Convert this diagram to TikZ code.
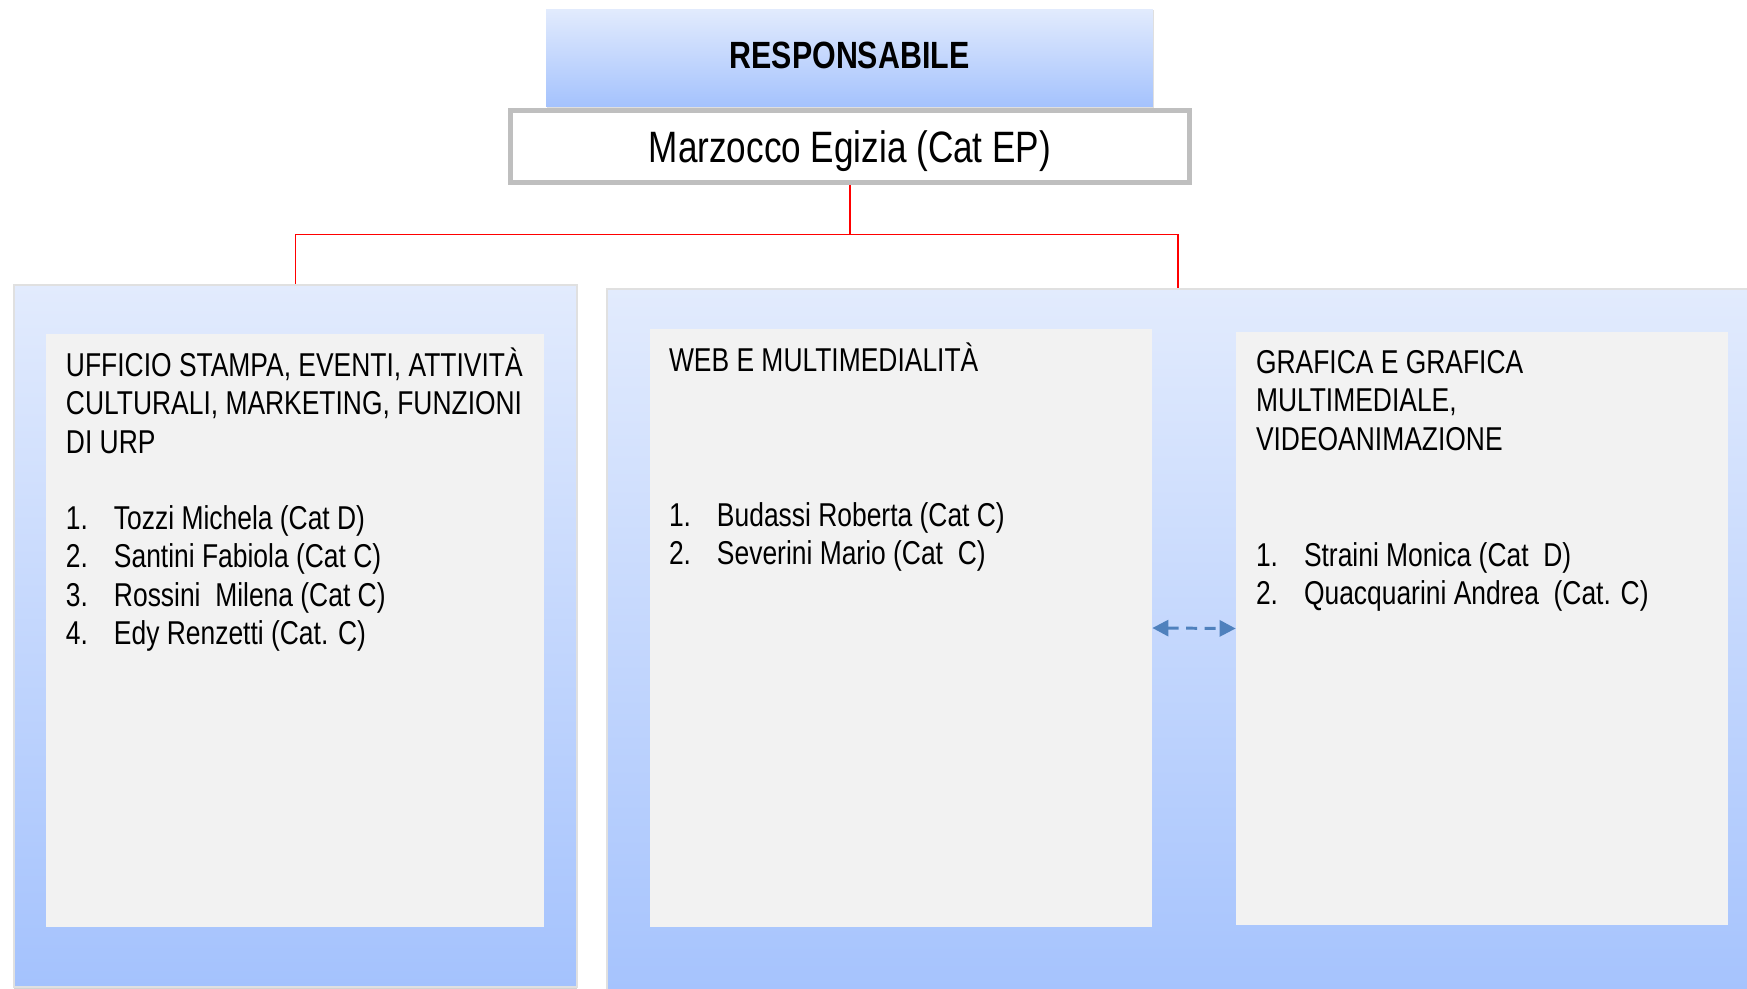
\documentclass[tikz,border=0pt]{standalone}
\usepackage{fontspec}
\setmainfont{Liberation Sans}[FakeStretch=0.8]
\usetikzlibrary{arrows.meta,shadows,fit}

\definecolor{bluetop}{HTML}{E2EBFD}
\definecolor{bluebot}{HTML}{A4C2FD}
\definecolor{boxgray}{HTML}{F2F2F2}
\definecolor{framegray}{HTML}{BFBFBF}
\definecolor{arrowblue}{HTML}{4F81BD}

\newcommand{\textlines}[1]{\begin{tabular}[t]{@{}l@{}}#1\end{tabular}}
\newcommand{\namelist}[1]{\begin{tabular}[t]{@{}p{0.96cm}@{}l@{}}#1\end{tabular}}

\begin{document}
\begin{tikzpicture}[x=0.02cm,y=-0.02cm,
    outerbox/.style={inner sep=0pt,top color=bluetop,bottom color=bluebot,
                     draw=black!12,line width=0.8pt,
                     drop shadow={shadow xshift=0pt,shadow yshift=-1.2pt,opacity=.35}},
    innerbox/.style={inner sep=0pt,fill=boxgray},
    body/.style={anchor=base west,inner sep=0pt,font=\fontsize{18.8}{21.8}\selectfont},
    link/.style={draw=red,line width=1.1pt},
    sync/.style={{Triangle[length=0.32cm,width=0.32cm]}-{Triangle[length=0.32cm,width=0.32cm]},
                 draw=arrowblue,line width=1.7pt,dash pattern=on 0.22cm off 0.15cm}]

  \useasboundingbox (0,0) rectangle (1747,989);
  \clip (0,0) rectangle (1747,989);

  % top
  \node[inner sep=0pt,minimum width=12.14cm,minimum height=1.96cm,
        top color=bluetop,bottom color=bluebot,
        drop shadow={shadow xshift=0.6pt,shadow yshift=-0.8pt,opacity=.25},
        text height=15.5pt,text depth=3.8pt,
        font=\bfseries\fontsize{21.6}{26}\selectfont] (resp) at (849.5,58) {RESPONSABILE};
  \node[draw=framegray,fill=white,line width=2.85pt,inner sep=0pt,
        minimum width=13.58cm,minimum height=1.44cm,
        text height=17.9pt,text depth=0pt,
        font=\fontsize{25}{30}\selectfont] (marz) at (850,146.5) {Marzocco Egizia (Cat EP)};

  % outer panels
  \node[outerbox,fit={(14,285) (577,987)}] (leftout) {};
  \node[outerbox,fit={(607,289) (1749,1010)}] (rightout) {};

  % inner panels
  \node[innerbox,fit={(46,334) (544,927)}] (leftin) {};
  \node[innerbox,fit={(650,329) (1152,927)}] (webin) {};
  \node[innerbox,fit={(1236,332) (1728,925)}] (grafin) {};

  % texts
  \node[body,xshift=0.4cm,yshift=-0.86cm] (lefttitle) at (leftin.north west)
    {\textlines{UFFICIO STAMPA, EVENTI, ATTIVITÀ\\CULTURALI, MARKETING, FUNZIONI\\DI URP}};
  \node[body,xshift=0.4cm,yshift=-3.92cm] (leftlist) at (leftin.north west)
    {\namelist{1. & Tozzi Michela (Cat D)\\2. & Santini Fabiola (Cat C)\\
               3. & Rossini\ \ Milena (Cat C)\\4. & Edy Renzetti (Cat. C)}};

  \node[body,xshift=0.38cm,yshift=-0.86cm] (webtitle) at (webin.north west)
    {WEB E MULTIMEDIALITÀ};
  \node[body,xshift=0.38cm,yshift=-3.96cm] (weblist) at (webin.north west)
    {\namelist{1. & Budassi Roberta (Cat C)\\2. & Severini Mario (Cat\ \ C)}};

  \node[body,xshift=0.4cm,yshift=-0.84cm] (graftitle) at (grafin.north west)
    {\textlines{GRAFICA E GRAFICA\\MULTIMEDIALE,\\VIDEOANIMAZIONE}};
  \node[body,xshift=0.4cm,yshift=-4.7cm] (graflist) at (grafin.north west)
    {\namelist{1. & Straini Monica (Cat\ \ D)\\2. & Quacquarini Andrea\ \ (Cat. C)}};

  % connectors
  \draw[link] (marz.south) -- ++(0,49.5) coordinate (split) -| (leftout.north);
  \draw[link] (split) -| (rightout.north);
  \draw[sync] (webin.east) -- (grafin.west);
\end{tikzpicture}
\end{document}
